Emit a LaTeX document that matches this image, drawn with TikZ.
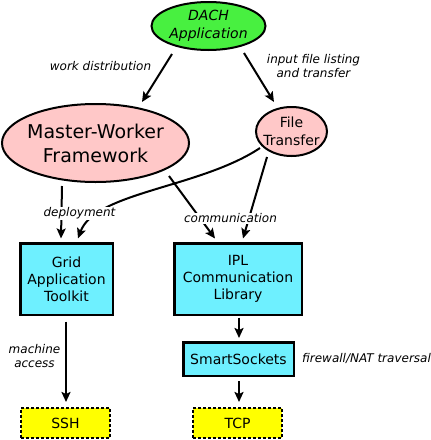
\documentclass[tikz,border=0pt]{standalone}
\usepackage{fontspec}
\setmainfont{DejaVu Sans}
\usetikzlibrary{shapes.geometric,arrows.meta}
\definecolor{dachgreen}{RGB}{72,240,64}
\definecolor{pinkfill}{RGB}{255,200,200}
\definecolor{cyanfill}{RGB}{110,240,255}
\definecolor{yellowfill}{RGB}{255,255,0}
\begin{document}
\begin{tikzpicture}[x=1pt,y=-1pt,
  ell/.style={ellipse, draw, line width=2pt, inner sep=0pt},
  elltext/.style={font=\fontsize{14}{17.5}\selectfont, align=center},
  box/.style={rectangle, draw, line width=2.5pt, fill=cyanfill, align=center,
    inner sep=0pt, font=\fontsize{14}{17}\selectfont},
  dbox/.style={rectangle, draw, line width=1.8pt, dash pattern=on 3pt off 2pt,
    fill=yellowfill, inner sep=0pt, font=\fontsize{14}{17}\selectfont},
  arr/.style={line width=2pt, -{Stealth[length=10pt,width=9pt,inset=2pt]}},
  lbl/.style={font=\fontsize{12}{14}\selectfont\itshape, align=center, fill=white, inner sep=1pt}
]
\useasboundingbox (0,0) rectangle (431,440);

% nodes
\node[ell, fill=dachgreen, minimum width=114, minimum height=48,
  label={[elltext, font=\fontsize{14}{18}\selectfont\itshape]center:{DACH\\Application}}] (dach) at (208.5,26) {};
\node[ell, fill=pinkfill, minimum width=187, minimum height=78,
  label={[elltext, font=\fontsize{19}{24}\selectfont]center:{Master-Worker\\Framework}}] (mw) at (95.5,143) {};
\node[ell, fill=pinkfill, minimum width=71, minimum height=49,
  label={[elltext]center:{File\\Transfer}}] (ft) at (291.5,131.5) {};

\node[box, minimum width=92.5, minimum height=71.5] (gat) at (66.5,279) {Grid\\Application\\Toolkit};
\node[box, minimum width=127.5, minimum height=71.5] (ipl) at (238,279) {IPL\\Communication\\Library};
\node[box, minimum width=110.5, minimum height=33.5] (ss) at (238.5,359) {SmartSockets};
\node[dbox, minimum width=89, minimum height=30] (ssh) at (65.5,423) {SSH};
\node[dbox, minimum width=89, minimum height=30] (tcp) at (237.5,423) {TCP};

% connectors
\draw[arr] ([shift={(-36.5,28)}]dach.center) -- ([shift={(46.5,-41)}]mw.center);
\draw[arr] ([shift={(35.5,27)}]dach.center) -- ([shift={(-17.5,-29.5)}]ft.center);
\draw[arr] ([shift={(-33.5,43)}]mw.center) -- ([shift={(-5.5,-40.5)}]gat.center);
\draw[arr] ([shift={(-31.5,16.5)}]ft.center) .. controls (200,188) and (95,192) .. ([shift={(11.5,-40.5)}]gat.center);
\draw[arr] ([shift={(73.5,33)}]mw.center) -- ([shift={(-23,-40.5)}]ipl.center);
\draw[arr] ([shift={(-24.5,25.5)}]ft.center) -- ([shift={(5,-40.5)}]ipl.center);
\draw[arr] ([shift={(1,38.5)}]ipl.center) -- ([shift={(0.5,-21)}]ss.center);
\draw[arr] ([shift={(0.5,22)}]ss.center) -- ([shift={(1.5,-21)}]tcp.center);
\draw[arr] ([shift={(-0.5,42.5)}]gat.center) -- ([shift={(0.5,-21)}]ssh.center);

% labels
\node[lbl] (lwd) at (100.5,66.5) {work distribution};
\node[lbl] (lif) at (313.5,66.5) {input file listing\\and transfer};
\node[lbl] (ldep) at (79.5,213.5) {deployment};
\node[lbl] (lcom) at (230.5,218.5) {communication};
\node[lbl] (lma) at (34.5,356) {machine\\access};
\node[lbl] (lfw) at (366.5,358.5) {firewall/NAT traversal};
\end{tikzpicture}
\end{document}
